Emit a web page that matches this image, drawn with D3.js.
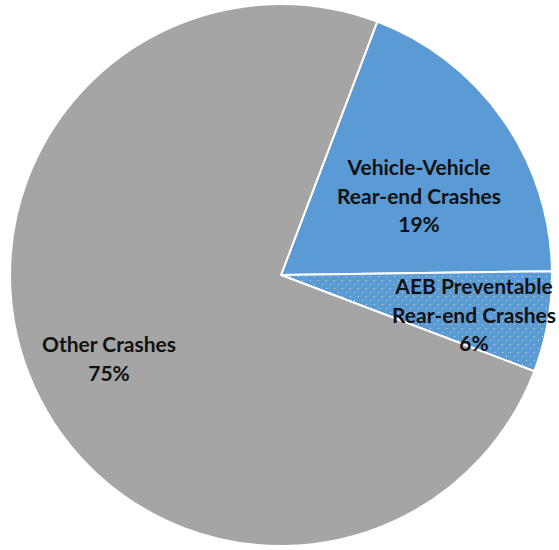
<!DOCTYPE html>
<html><head><meta charset="utf-8">
<script src="https://cdn.jsdelivr.net/npm/d3@7"></script>
<style>body{margin:0;background:#fff;}svg{display:block;}</style>
</head><body>
<svg id="c" width="559" height="550"></svg>
<script>
const categories = ["Vehicle-Vehicle Rear-end Crashes", "AEB Preventable Rear-end Crashes", "Other Crashes"];
const labelLines = [["Vehicle-Vehicle", "Rear-end Crashes", "19%"], ["AEB Preventable", "Rear-end Crashes", "6%"], ["Other Crashes", "75%"]];
const values = [19, 6, 75];
const colors = ["#5b9bd5", "url(#dots)", "#a5a5a5"];

const svg = d3.select("#c");
const cx = 281, cy = 275, r = 271;
const defs = svg.append("defs");
const pat = defs.append("pattern").attr("id", "dots").attr("patternUnits", "userSpaceOnUse").attr("width", 8).attr("height", 8);
pat.append("rect").attr("width", 8).attr("height", 8).attr("fill", "#5b9bd5");
pat.append("rect").attr("x", 1).attr("y", 1).attr("width", 1).attr("height", 1).attr("fill", "#c3dbf0");
pat.append("rect").attr("x", 5).attr("y", 5).attr("width", 1).attr("height", 1).attr("fill", "#c3dbf0");

const start = 20.8 * Math.PI / 180;
const pie = d3.pie().sort(null).startAngle(start).endAngle(start + 2 * Math.PI);
const arcs = pie(values);
const arc = d3.arc().innerRadius(0).outerRadius(r);
const g = svg.append("g").attr("transform", `translate(${cx},${cy})`);
g.selectAll("path").data(arcs).join("path")
  .attr("d", arc).attr("fill", (d, i) => colors[i])
  .attr("stroke", "#fff").attr("stroke-width", 2).attr("stroke-linejoin", "round");

const labelPos = [[419, 168], [474, 287], [109, 345]];
const lh = 28.5;
arcs.forEach((d, i) => {
  const t = svg.append("text")
    .attr("text-anchor", "middle")
    .attr("font-family", "Lato, 'Open Sans', sans-serif")
    .attr("font-weight", "bold").attr("font-size", 21).attr("fill", "#111");
  labelLines[i].forEach((s, j) => {
    t.append("tspan").attr("x", labelPos[i][0]).attr("y", labelPos[i][1] + j * lh).attr("dy", "0.35em").text(s);
  });
});
</script>
</body></html>
